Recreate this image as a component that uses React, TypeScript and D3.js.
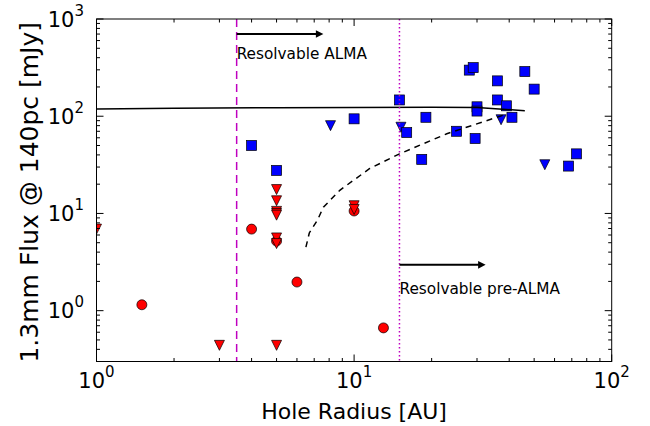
import React from 'react';
import * as d3 from 'd3';

const xTickValues = [1, 10, 100];
const xTickExps = ['0', '1', '2'];
const yTickValues = [1, 10, 100, 1000];
const yTickExps = ['0', '1', '2', '3'];

// red: detections (circles) and upper limits (down triangles)
const redCircles: [number, number][] = [
  [1.5, 1.15], [4.0, 6.9], [5, 5.2], [6.0, 1.97], [10, 10.6], [13, 0.665],
];
const redLimits: [number, number][] = [
  [1.0, 6.9], [3.0, 0.44], [5, 0.44], [5, 17.6], [5, 13.5], [5, 10.5], [5, 10.0],
  [5, 9.6], [5, 5.6], [5, 4.9], [10, 12.0], [10, 11.0],
];
// blue: resolved (squares) and limits (down triangles)
const blueLimits: [number, number][] = [
  [8.1, 80], [15.2, 77], [37.2, 92], [55, 31.7],
];
const blueSquares: [number, number][] = [
  [4.0, 50], [5, 27.7], [10, 94], [15, 147], [16, 68], [19, 97.5], [18.3, 36],
  [25, 70], [29.5, 59], [30, 125], [30, 113], [28, 298], [29, 316], [36, 231],
  [36, 147], [39, 128], [41, 97.5], [46, 288], [50, 190], [68, 30.7], [73, 41],
];
// model curves
const solidCurve: [number, number][] = [
  [1, 119], [2, 121], [5, 122.5], [10, 123], [20, 123.5], [30, 123], [46, 114],
];
const dashedCurve: [number, number][] = [
  [6.5, 4.5], [6.7, 6.3], [7.2, 8.5], [7.6, 11.6], [8.8, 17.3], [11.5, 29],
  [15, 41], [22.9, 66], [39, 105],
];
const almaLimit = 3.5;
const preAlmaLimit = 15;
const almaArrow: [number, number, number] = [3.5, 7.6, 700];
const preAlmaArrow: [number, number, number] = [15, 32.4, 2.96];
const almaText = 'Resolvable ALMA';
const preAlmaText = 'Resolvable pre-ALMA';
const xLabel = 'Hole Radius [AU]';
const yLabel = '1.3mm Flux @ 140pc [mJy]';

const L = 96.5, R = 611.7, T = 19, B = 361.5;
const FONT = 'DejaVu Sans, sans-serif';

export default function App() {
  const x = d3.scaleLog().domain([1, 100]).range([L, R]);
  const y = d3.scaleLog().domain([0.3, 1000]).range([B, T]);

  const xMinor: number[] = [];
  for (const d of [1, 10]) for (let k = 2; k <= 9; k++) xMinor.push(d * k);
  const yMinor: number[] = [];
  for (const d of [0.1, 1, 10, 100]) for (let k = 2; k <= 9; k++) {
    const v = d * k;
    if (v >= 0.3 && v <= 1000) yMinor.push(v);
  }

  const line = d3.line<[number, number]>().x(d => x(d[0])).y(d => y(d[1]));

  const tri = (cx: number, cy: number, s: number) =>
    `M${cx - s / 2},${cy - s / 2}L${cx + s / 2},${cy - s / 2}L${cx},${cy + s / 2}Z`;

  const ms = 10;
  const arrow = (a: [number, number, number]) => {
    const x0 = x(a[0]), x1 = x(a[1]), yy = y(a[2]);
    return (
      <g>
        <line x1={x0} x2={x1 - 6} y1={yy} y2={yy} stroke="black" strokeWidth={2} />
        <path d={`M${x1},${yy}L${x1 - 7.5},${yy - 3.8}L${x1 - 7.5},${yy + 3.8}Z`} fill="black" />
      </g>
    );
  };

  return (
    <svg width={650} height={426} style={{ position: 'absolute', left: 0, top: 0, background: 'white' }}
      fontFamily={FONT}>
      <defs>
        <clipPath id="plotclip"><rect x={L} y={T} width={R - L} height={B - T} /></clipPath>
      </defs>
      <rect x={0} y={0} width={650} height={426} fill="white" />
      <g clipPath="url(#plotclip)">
        {redCircles.map((d, i) => (
          <circle key={'rc' + i} cx={x(d[0])} cy={y(d[1])} r={ms / 2} fill="#ff0000" stroke="black" strokeWidth={0.7} />
        ))}
        {redLimits.map((d, i) => (
          <path key={'rl' + i} d={tri(x(d[0]), y(d[1]), ms)} fill="#ff0000" stroke="black" strokeWidth={0.7} />
        ))}
        {blueLimits.map((d, i) => (
          <path key={'bl' + i} d={tri(x(d[0]), y(d[1]), ms)} fill="#0000ff" stroke="black" strokeWidth={0.7} />
        ))}
        {blueSquares.map((d, i) => (
          <rect key={'bs' + i} x={x(d[0]) - ms / 2} y={y(d[1]) - ms / 2} width={ms} height={ms}
            fill="#0000ff" stroke="black" strokeWidth={0.7} />
        ))}
        <path d={line(solidCurve) || ''} fill="none" stroke="black" strokeWidth={1.5} />
        <path d={line(dashedCurve) || ''} fill="none" stroke="black" strokeWidth={1.5} strokeDasharray="6,5" />
        <line x1={x(almaLimit)} x2={x(almaLimit)} y1={T} y2={B} stroke="#bf00bf" strokeWidth={1.5} strokeDasharray="8,5" />
        <line x1={x(preAlmaLimit)} x2={x(preAlmaLimit)} y1={T} y2={B} stroke="#bf00bf" strokeWidth={1.5} strokeDasharray="1.5,2.5" />
        {arrow(almaArrow)}
        {arrow(preAlmaArrow)}
      </g>
      <text x={x(almaArrow[0])} y={y(almaArrow[2]) + 24.5} fontSize={15.3} fill="black">{almaText}</text>
      <text x={x(preAlmaArrow[0])} y={y(preAlmaArrow[2]) + 29} fontSize={15.3} fill="black">{preAlmaText}</text>

      {/* frame */}
      <rect x={L} y={T} width={R - L} height={B - T} fill="none" stroke="black" strokeWidth={1} />
      {/* x ticks */}
      {xTickValues.map(v => (
        <g key={'xt' + v}>
          <line x1={x(v)} x2={x(v)} y1={B} y2={B - 7} stroke="black" />
          <line x1={x(v)} x2={x(v)} y1={T} y2={T + 7} stroke="black" />
        </g>
      ))}
      {xMinor.map(v => (
        <g key={'xm' + v}>
          <line x1={x(v)} x2={x(v)} y1={B} y2={B - 3.5} stroke="black" />
          <line x1={x(v)} x2={x(v)} y1={T} y2={T + 3.5} stroke="black" />
        </g>
      ))}
      {yTickValues.map(v => (
        <g key={'yt' + v}>
          <line x1={L} x2={L + 7} y1={y(v)} y2={y(v)} stroke="black" />
          <line x1={R} x2={R - 7} y1={y(v)} y2={y(v)} stroke="black" />
        </g>
      ))}
      {yMinor.map(v => (
        <g key={'ym' + v}>
          <line x1={L} x2={L + 3.5} y1={y(v)} y2={y(v)} stroke="black" />
          <line x1={R} x2={R - 3.5} y1={y(v)} y2={y(v)} stroke="black" />
        </g>
      ))}
      {/* tick labels */}
      {xTickValues.map((v, i) => (
        <text key={'xl' + v} x={x(v)} y={388} fontSize={21} textAnchor="middle" fill="black">
          <tspan>10</tspan><tspan dy={-11} fontSize={15}>{xTickExps[i]}</tspan>
        </text>
      ))}
      {yTickValues.map((v, i) => (
        <text key={'yl' + v} x={84} y={y(v) + 7.5} fontSize={21} textAnchor="end" fill="black">
          <tspan>10</tspan><tspan dy={-11} fontSize={15}>{yTickExps[i]}</tspan>
        </text>
      ))}
      {/* axis labels */}
      <text x={(L + R) / 2} y={419} fontSize={22} textAnchor="middle" fill="black">{xLabel}</text>
      <text transform={`translate(38.3,${(T + B) / 2 + 2}) rotate(-90)`} fontSize={25} textAnchor="middle" fill="black">{yLabel}</text>
    </svg>
  );
}
